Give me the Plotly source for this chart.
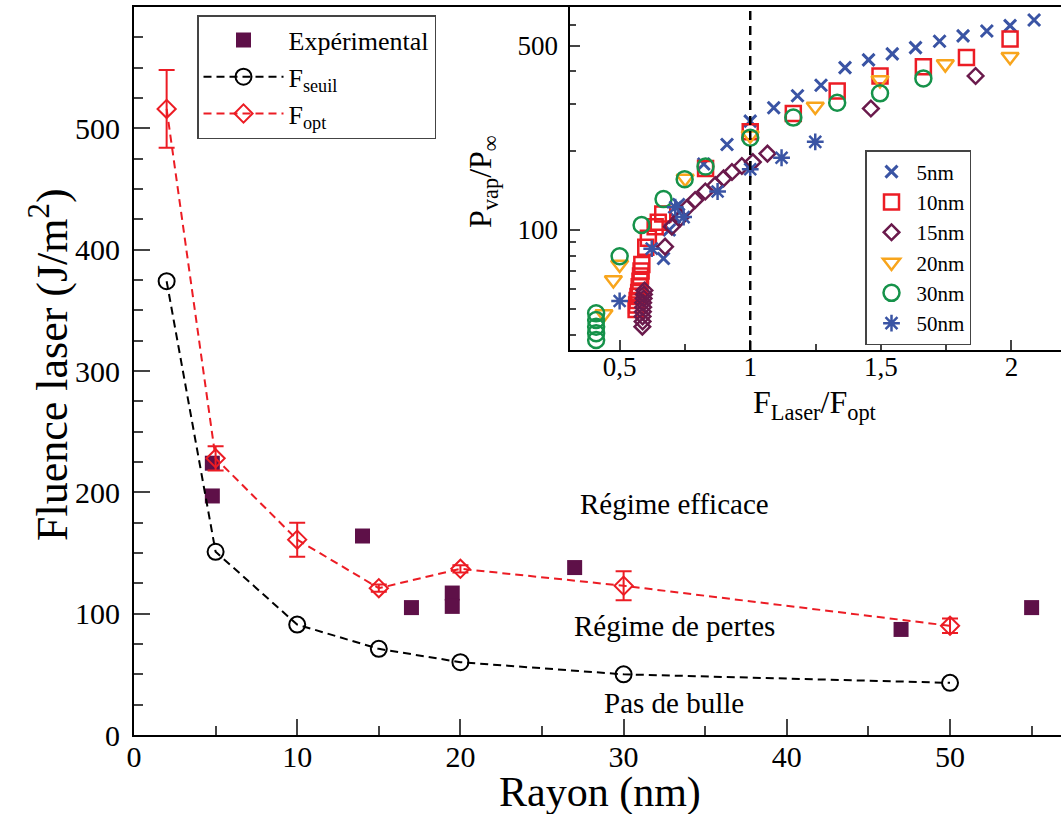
import plotly.graph_objects as go

W, H = 1061, 814
FONT = "Liberation Serif, Times New Roman, serif"

# ---------------- main data ----------------
exp_r = [4.8, 4.8, 14.0, 17.0, 19.5, 19.5, 27.0, 47.0, 55.0]
exp_f = [197, 224, 164, 105, 117, 106, 138, 87, 105]

seuil_r = [2, 5, 10, 15, 20, 30, 50]
seuil_f = [374, 151, 91, 71, 60, 50, 43]

opt_r = [2, 5, 10, 15, 20, 30, 50]
opt_f = [516, 228, 161, 121, 137, 123, 90]
opt_err = [32, 10, 14, 3, 3, 12, 6]

# ---------------- inset data ----------------
x5 = [2.087, 1.995, 1.906, 1.815, 1.725, 1.633, 1.544, 1.453, 1.363, 1.271, 1.181, 1.090, 1.0, 0.911, 0.822, 0.726, 0.71, 0.69, 0.668]
y5 = [626, 596, 569, 545, 520, 492, 466, 442, 413, 354, 323, 291, 259, 211, 178, 125, 112, 100, 78]

x10 = [1.995, 1.828, 1.663, 1.497, 1.333, 1.165, 1.0, 0.829, 0.665, 0.648, 0.636, 0.61, 0.60,
       0.585, 0.582, 0.58, 0.578, 0.575, 0.573, 0.57, 0.567, 0.565, 0.563]
y10 = [530, 451, 416, 384, 337, 277, 236, 171, 115, 107, 103, 93, 86,
       74, 70, 67, 64, 61, 58, 56, 54, 52, 50]

x15 = [1.863, 1.462, 1.066, 1.010, 0.968, 0.930, 0.898, 0.866, 0.828, 0.789, 0.757, 0.732, 0.700, 0.674,
       0.595, 0.593, 0.592, 0.59, 0.59, 0.589, 0.588, 0.588, 0.587]
y15 = [384, 289, 195, 181, 175, 166, 157, 148, 140, 130, 121, 111, 103, 86.5,
       59, 57, 55, 53, 51, 49, 47, 45, 43]

x20 = [1.995, 1.747, 1.497, 1.249, 1.0, 0.751, 0.50, 0.476, 0.44]
y20 = [454, 426, 371, 294, 229, 157, 74, 64.6, 48]

x30 = [1.663, 1.497, 1.333, 1.165, 1.0, 0.829, 0.749, 0.668, 0.584, 0.50, 0.41, 0.41, 0.41, 0.41, 0.41]
y30 = [376, 330, 304, 267, 224, 174, 156, 131, 104.5, 79.6, 48.3, 45.6, 43, 40.6, 38.3]

x50 = [1.249, 1.120, 1.0, 0.875, 0.745, 0.713, 0.623, 0.50]
y50 = [216, 188, 170, 140, 112, 122, 85, 53.8]

inset_names = ["5nm", "10nm", "15nm", "20nm", "30nm", "50nm"]

BLUE = "#3a54a4"
RED = "#ec1c24"
PURPLE = "#6a1a4c"
DARKP = "#5e1048"
ORANGE = "#f8a51c"
GREEN = "#16924a"

fig = go.Figure()

# main traces
fig.add_trace(go.Scatter(
    x=exp_r, y=exp_f, mode="markers", name="Expérimental",
    marker=dict(symbol="square", size=15, color=DARKP, line=dict(width=0)),
    legend="legend", xaxis="x", yaxis="y"))
fig.add_trace(go.Scatter(
    x=seuil_r, y=seuil_f, mode="lines+markers", name="F<sub>seuil</sub>",
    line=dict(color="black", width=2, dash="8px,5px"),
    marker=dict(symbol="circle-open", size=16, color="black", line=dict(width=2)),
    legend="legend", xaxis="x", yaxis="y"))
fig.add_trace(go.Scatter(
    x=opt_r, y=opt_f, mode="lines+markers", name="F<sub>opt</sub>",
    line=dict(color=RED, width=2, dash="8px,5px"),
    marker=dict(symbol="diamond-open", size=14, color=RED, line=dict(width=2)),
    error_y=dict(type="data", array=opt_err, color=RED, thickness=2, width=8),
    legend="legend", xaxis="x", yaxis="y"))

# inset traces
inset = [
    (x5, y5, "x-thin-open", BLUE, 12, 3),
    (x10, y10, "square-open", RED, 15, 2.5),
    (x15, y15, "diamond-open", PURPLE, 12, 2.5),
    (x20, y20, "triangle-down-open", ORANGE, 15, 2.5),
    (x30, y30, "circle-open", GREEN, 16, 2.5),
    (x50, y50, "asterisk-open", BLUE, 14, 2.5),
]
for (xs, ys, sym, col, sz, lw), nm in zip(inset, inset_names):
    fig.add_trace(go.Scatter(
        x=xs, y=ys, mode="markers", name=nm,
        marker=dict(symbol=sym, size=sz, color=col, line=dict(width=lw, color=col)),
        legend="legend2", xaxis="x2", yaxis="y2"))

def fx(p):
    return p / W

def fy(p):
    return 1 - p / H

tickfont = dict(family=FONT, size=30, color="black")
tickfont2 = dict(family=FONT, size=27, color="black")

fig.update_layout(
    template="none",
    width=W, height=H,
    margin=dict(l=0, r=0, t=0, b=0, pad=0),
    paper_bgcolor="white", plot_bgcolor="white",
    font=dict(family=FONT, color="black"),
    xaxis=dict(domain=[fx(134), 1], range=[0, 56.8], anchor="y", automargin=False,
               tickvals=[0, 10, 20, 30, 40, 50], ticks="inside", ticklen=16, tickwidth=2,
               minor=dict(dtick=5, tick0=0, ticks="inside", ticklen=9, tickwidth=2),
               showline=True, linewidth=2, linecolor="black", mirror=True,
               showgrid=False, zeroline=False, tickfont=tickfont, ticklabelstandoff=-6),
    yaxis=dict(domain=[fy(735), fy(7)], range=[0, 600], anchor="x", automargin=False,
               tickvals=[0, 100, 200, 300, 400, 500], ticks="inside", ticklen=16, tickwidth=2,
               minor=dict(dtick=25, tick0=0, ticks="inside", ticklen=9, tickwidth=2),
               showline=True, linewidth=2, linecolor="black", mirror=False,
               showgrid=False, zeroline=False, tickfont=tickfont, ticklabelstandoff=6),
    xaxis2=dict(domain=[fx(569.5), 1], range=[0.308, 2.19], anchor="y2", automargin=False,
                tickvals=[0.5, 1, 1.5, 2], ticktext=["0,5", "1", "1,5", "2"],
                ticks="inside", ticklen=10, tickwidth=2,
                minor=dict(tickvals=[0.75, 1.25, 1.75], ticks="inside", ticklen=6, tickwidth=2),
                showline=True, linewidth=2, linecolor="black", mirror=True,
                showgrid=False, zeroline=False, tickfont=tickfont2, ticklabelstandoff=-8),
    yaxis2=dict(domain=[fy(350), fy(7)], type="log", range=[1.545, 2.846], anchor="x2",
                automargin=False,
                tickvals=[100, 500], ticktext=["100", "500"],
                ticks="inside", ticklen=10, tickwidth=2,
                minor=dict(tickvals=[40, 50, 60, 70, 80, 90, 200, 300, 400, 600, 700],
                           ticks="inside", ticklen=6, tickwidth=2),
                showline=True, linewidth=2, linecolor="black", mirror=False,
                showgrid=False, zeroline=False, tickfont=tickfont2, ticklabelstandoff=4),
    legend=dict(x=fx(197), y=fy(15), xanchor="left", yanchor="top",
                bgcolor="white", bordercolor="#444", borderwidth=1.5,
                font=dict(family=FONT, size=26, color="black"),
                tracegroupgap=0, itemwidth=80),
    legend2=dict(x=fx(865), y=fy(150), xanchor="left", yanchor="top",
                 bgcolor="white", bordercolor="#444", borderwidth=1.5,
                 font=dict(family=FONT, size=21, color="black"),
                 tracegroupgap=0, itemwidth=40),
    showlegend=True,
)

# dashed vertical line at F = F_opt in inset
fig.add_shape(type="line", xref="x2", yref="y2 domain", x0=1, x1=1, y0=0, y1=1,
              line=dict(color="black", width=2.5, dash="9px,6px"))

def lab(text, x, y, size, angle=0, xref="paper", yref="paper"):
    return dict(text=text, xref=xref, yref=yref, x=x, y=y, textangle=angle,
                xanchor="center", yanchor="middle", showarrow=False,
                font=dict(family=FONT, size=size, color="black"))

ann = [
    lab("Fluence laser (J/m<sup>2</sup>)", fx(50), fy(365), 44, -90),
    lab("Rayon (nm)", fx(600), fy(792), 42),
    lab("P<sub>vap</sub>/P<sub>∞</sub>", fx(482), fy(182), 32, -90),
    lab("F<sub>Laser</sub>/F<sub>opt</sub>", fx(815), fy(405), 32),
]
for txt, yv in [("Régime efficace", 190), ("Régime de pertes", 90), ("Pas de bulle", 26)]:
    ann.append(lab(txt, 33.1, yv, 29, xref="x", yref="y"))
fig.update_layout(annotations=ann)

fig.write_html("out.html", config={"displayModeBar": False},
               post_script="document.body.style.margin='0';document.body.style.overflow='hidden';")
